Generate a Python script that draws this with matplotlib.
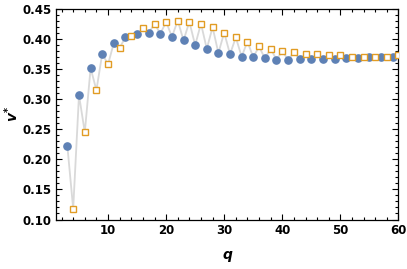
import matplotlib
matplotlib.use("Agg")
import matplotlib.pyplot as plt
from matplotlib.ticker import MultipleLocator

q_odd = [3, 5, 7, 9, 11, 13, 15, 17, 19, 21, 23, 25, 27, 29, 31, 33, 35, 37, 39,
         41, 43, 45, 47, 49, 51, 53, 55, 57, 59]
v_odd = [0.222, 0.307, 0.352, 0.376, 0.394, 0.403, 0.409, 0.410, 0.409, 0.404,
         0.398, 0.390, 0.384, 0.377, 0.375, 0.371, 0.370, 0.368, 0.366,
         0.366, 0.367, 0.367, 0.367, 0.367, 0.369, 0.369, 0.370, 0.370, 0.370]
q_even = [4, 6, 8, 10, 12, 14, 16, 18, 20, 22, 24, 26, 28, 30, 32, 34, 36, 38, 40,
          42, 44, 46, 48, 50, 52, 54, 56, 58, 60]
v_even = [0.118, 0.245, 0.315, 0.358, 0.386, 0.406, 0.418, 0.426, 0.429, 0.431,
          0.429, 0.426, 0.420, 0.411, 0.403, 0.396, 0.388, 0.384, 0.380,
          0.378, 0.375, 0.375, 0.373, 0.373, 0.371, 0.371, 0.371, 0.371, 0.373]

pairs = sorted(list(zip(q_odd, v_odd)) + list(zip(q_even, v_even)))
q_all = [p[0] for p in pairs]
v_all = [p[1] for p in pairs]

fig = plt.figure(figsize=(4.07, 2.69), dpi=100)
ax = fig.add_axes([0.137, 0.184, 0.842, 0.782])

ax.plot(q_all, v_all, color="#d9d9d9", lw=1.3, zorder=1)
ax.plot(q_odd, v_odd, "o", ms=5.2, color="#5E81B5", mec="#5E81B5", zorder=3)
ax.plot(q_even, v_even, "s", ms=4.9, mfc="white", mec="#E19C24", mew=1.0, zorder=3)

ax.set_xlim(1, 60)
ax.set_ylim(0.10, 0.45)
ax.xaxis.set_major_locator(MultipleLocator(10))
ax.xaxis.set_minor_locator(MultipleLocator(2))
ax.yaxis.set_major_locator(MultipleLocator(0.05))
ax.yaxis.set_minor_locator(MultipleLocator(0.01))
ax.set_yticks([0.10, 0.15, 0.20, 0.25, 0.30, 0.35, 0.40, 0.45])
ax.set_yticklabels(["0.10", "0.15", "0.20", "0.25", "0.30", "0.35", "0.40", "0.45"])
ax.tick_params(which="both", direction="in", top=True, right=True, width=0.8, colors="black")
ax.tick_params(which="major", length=4, labelsize=8.5, pad=3)
ax.tick_params(which="minor", length=2)
for lab in ax.get_xticklabels() + ax.get_yticklabels():
    lab.set_fontweight("bold")
for s in ax.spines.values():
    s.set_linewidth(0.9)

ax.set_xlabel("q", fontsize=10, fontweight="bold", fontstyle="italic", labelpad=8)
fig.text(12 / 407, 1 - 114 / 269, r"$\mathbfit{v}^{\mathbf{*}}$", fontsize=10,
         rotation=90, ha="center", va="center")

fig.savefig("out.png", dpi=100)
